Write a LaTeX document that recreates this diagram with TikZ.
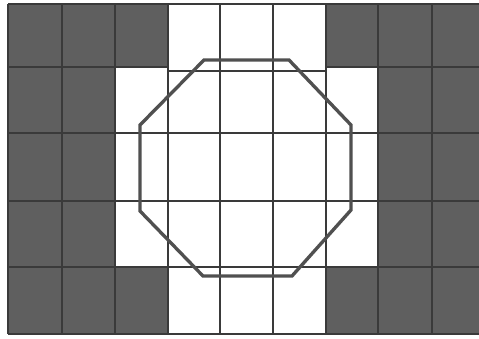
\documentclass[tikz,border=0pt]{standalone}
\usepackage{tikz}
\usetikzlibrary{positioning}

\definecolor{cellgray}{HTML}{5F5F5F}
\definecolor{linegray}{HTML}{3A3A3A}
\definecolor{octgray}{HTML}{505050}

\begin{document}
\begin{tikzpicture}[
    x=0.02cm, y=-0.02cm,
    darkcell/.style={fill=cellgray},
    gridline/.style={draw=linegray, line width=0.9pt},
    octa/.style={draw=octgray, line width=1.9pt, line join=miter}
]
    \useasboundingbox (0,0) rectangle (479,338);
    \clip (0,0) rectangle (479,338);
    \fill[white] (0,0) rectangle (479,338);

    % shaded cells
    \fill[darkcell] (8,4) rectangle (168,67);
    \fill[darkcell] (326,4) rectangle (490,67);
    \fill[darkcell] (8,67) rectangle (115,267);
    \fill[darkcell] (378,67) rectangle (490,267);
    \fill[darkcell] (8,267) rectangle (168,334);
    \fill[darkcell] (326,267) rectangle (490,334);

    % grid
    \foreach \gx in {8,62,115,168,220,273,326,378,432}
        \draw[gridline] (\gx,4) -- (\gx,334);
    \foreach \gy in {4,133,201,267,334}
        \draw[gridline] (8,\gy) -- (490,\gy);
    \draw[gridline] (8,67) -- (168,67);
    \draw[gridline] (168,71) -- (326,71);
    \draw[gridline] (326,67) -- (490,67);

    % octagon
    \draw[octa] (204,60) -- (289,60) -- (351,125) -- (351,210)
        -- (292,276) -- (203,276) -- (140,211) -- (140,125) -- cycle;
\end{tikzpicture}
\end{document}
